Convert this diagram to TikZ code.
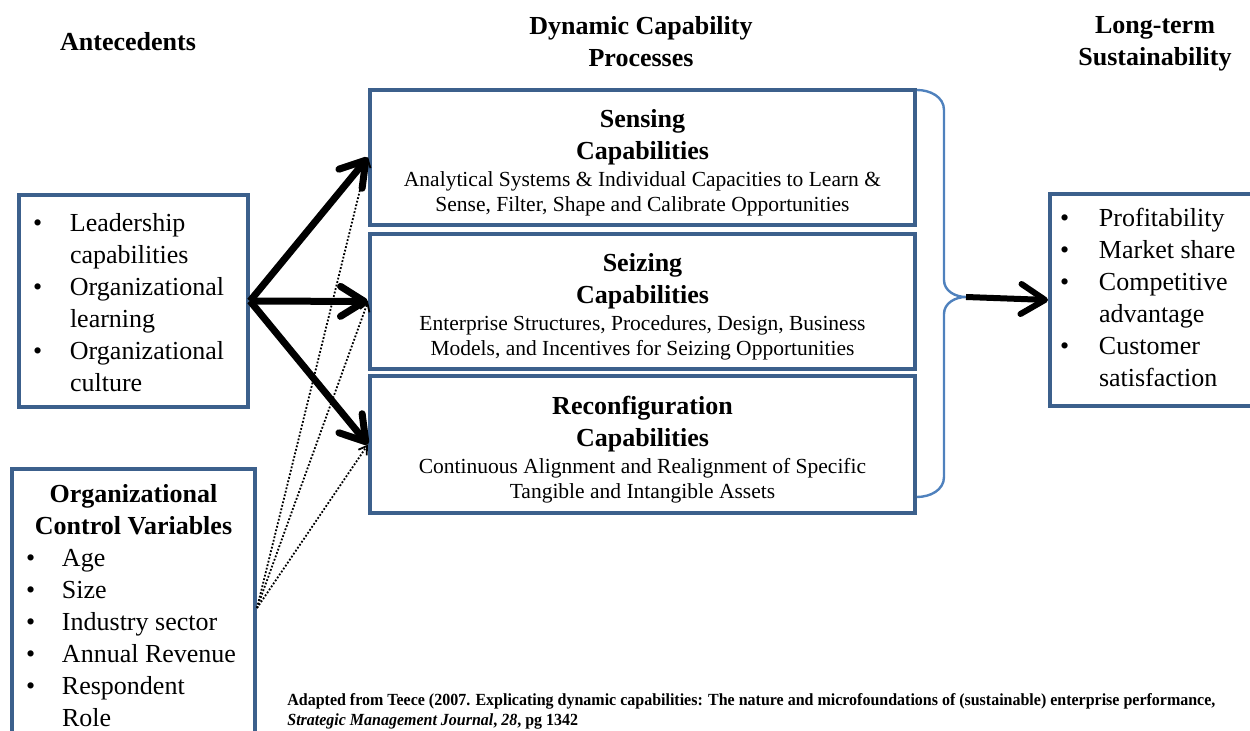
\documentclass[tikz,border=0pt]{standalone}
\usepackage{fontspec}
\setmainfont{Liberation Serif}
\newfontfamily\notefont[FakeStretch=0.94]{Liberation Serif}
\usepackage{tikz}
\usepackage{xcolor}
\usetikzlibrary{arrows.meta}
\definecolor{boxblue}{RGB}{60,96,140}
\definecolor{braceblue}{RGB}{79,129,189}
\newcommand{\captitle}[1]{\rule{0pt}{14pt}\textbf{#1}}

\begin{document}
\begin{tikzpicture}[x=0.5pt,y=-0.5pt,
  capbox/.style={draw=boxblue,line width=2pt,minimum width=272.5pt,minimum height=67.5pt,align=center,
    font=\fontsize{13}{16}\selectfont},
  listbox/.style={draw=boxblue,line width=2pt,font=\fontsize{13}{16}\selectfont},
  head/.style={font=\fontsize{13}{16}\selectfont\bfseries,align=center},
  bigarrow/.style={line width=3.5pt,-{Straight Barb[length=12pt,width=15pt,round]}},
  dotarrow/.style={line width=0.9pt,dash pattern=on 0.9pt off 0.9pt,-{Straight Barb[length=4pt,width=5pt]}}]
\useasboundingbox (0,0) rectangle (1250,731);

\node[head] (h1) at (128,42) {Antecedents};
\node[head] (h2) at (641,42) {Dynamic Capability\\Processes};
\node[head] (h3) at (1155,44) {Long-term\\Sustainability};

\node[listbox,minimum width=114.5pt,minimum height=106pt] (ante) at (133.5,301) {\raisebox{-2pt}[\height][\depth]{\begin{tabular}{@{}p{18.5pt}@{}p{82pt}@{}}
\textbullet & Leadership\\
 & capabilities\\
\textbullet & Organizational\\
 & learning\\
\textbullet & Organizational\\
 & culture
\end{tabular}}};

\node[listbox,anchor=north,minimum width=121.5pt,inner ysep=5.5pt] (ctrl) at (133.5,467) {\begin{tabular}{@{}p{18pt}@{}p{89.5pt}@{}}
\multicolumn{2}{@{}c@{}}{\bfseries Organizational}\\
\multicolumn{2}{@{}c@{}}{\bfseries Control Variables}\\
\textbullet & Age\\
\textbullet & Size\\
\textbullet & Industry sector\\
\textbullet & Annual Revenue\\
\textbullet & Respondent\\
 & Role
\end{tabular}};

\node[capbox] (sense) at (642.5,157.5) {\captitle{Sensing}\\
\textbf{Capabilities}\\[-2.5pt]
{\fontsize{10.75}{12.5}\selectfont Analytical Systems \& Individual Capacities to Learn \&}\\[-3.5pt]
{\fontsize{10.75}{12.5}\selectfont Sense, Filter, Shape and Calibrate Opportunities}};
\node[capbox] (seize) at (642.5,301.5) {\captitle{Seizing}\\
\textbf{Capabilities}\\[-2.5pt]
{\fontsize{10.75}{12.5}\selectfont Enterprise Structures, Procedures, Design, Business}\\[-3.5pt]
{\fontsize{10.75}{12.5}\selectfont Models, and Incentives for Seizing Opportunities}};
\node[capbox,minimum height=68.5pt] (reconf) at (642.5,444.5) {\captitle{Reconfiguration}\\
\textbf{Capabilities}\\[-2.5pt]
{\fontsize{10.75}{12.5}\selectfont Continuous Alignment and Realignment of Specific}\\[-3.5pt]
{\fontsize{10.75}{12.5}\selectfont Tangible and Intangible Assets}};

\node[listbox,anchor=north west,minimum height=106pt,inner xsep=5pt] (outc) at (1048,192) {\begin{tabular}{@{}p{19.5pt}@{}l@{\hspace{10pt}}}
\textbullet & Profitability\\
\textbullet & Market share\\
\textbullet & Competitive\\
 & advantage\\
\textbullet & Customer\\
 & satisfaction
\end{tabular}};

\coordinate (btop) at (917,90);
\coordinate (btip) at (966,297);
\coordinate (bbot) at (917,497);
\draw[braceblue,line width=1.2pt] (btop) to[out=0,in=90] (944,110) -- (944,280) to[out=-90,in=180] (btip)
  to[out=180,in=90] (944,314) -- (944,477) to[out=-90,in=0] (bbot);

\draw[bigarrow] (ante.east) -- (sense.west);
\draw[bigarrow] (ante.east) -- (seize.west);
\draw[bigarrow] (ante.east) -- (reconf.west);
\draw[dotarrow] (ctrl.east) -- (sense.west);
\draw[dotarrow] (ctrl.east) -- (seize.west);
\draw[dotarrow] (ctrl.east) -- (reconf.west);
\draw[bigarrow,line width=3pt] (btip) -- (outc.west);

\node[anchor=north west,align=left,font=\notefont\fontsize{8.5}{10}\selectfont\bfseries,inner sep=0pt] (note) at (287,693) {Adapted  from Teece (2007. Explicating dynamic capabilities: The nature and  microfoundations of (sustainable) enterprise performance,\\
\textit{Strategic Management Journal}, \textit{28}, pg 1342};
\end{tikzpicture}
\end{document}
